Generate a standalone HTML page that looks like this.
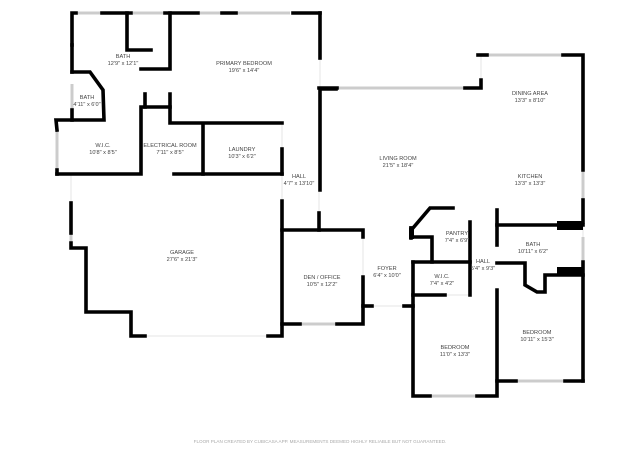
<!DOCTYPE html>
<html><head><meta charset="utf-8"><style>
body{margin:0;background:#fff;width:640px;height:457px;overflow:hidden}
svg{display:block}
text{font-family:"Liberation Sans",sans-serif;fill:#444;font-size:5.6px;text-anchor:middle}
.w{fill:none;stroke:#000;stroke-width:3.6;stroke-linecap:square;stroke-linejoin:miter}
.n{fill:none;stroke:#ccc;stroke-width:3}
.g{fill:none;stroke:#e4e4e4;stroke-width:1}
</style></head><body>
<svg width="640" height="457" viewBox="0 0 640 457">
<g class="g">
<line x1="71" y1="175" x2="71" y2="203"/><line x1="145" y1="336" x2="268" y2="336"/>
<line x1="282" y1="123" x2="282" y2="201"/><line x1="319" y1="190" x2="319" y2="213"/>
<line x1="363" y1="237" x2="363" y2="277"/><line x1="372" y1="306" x2="404" y2="306"/>
<line x1="481" y1="55" x2="481" y2="88"/><line x1="320" y1="58" x2="320" y2="88"/>
<line x1="583" y1="222" x2="583" y2="237"/><line x1="445" y1="295" x2="470" y2="295"/>
</g>
<g class="n">
<line x1="76" y1="13" x2="102" y2="13"/><line x1="133" y1="13" x2="164" y2="13"/><line x1="200" y1="13" x2="290" y2="13"/>
<line x1="72" y1="18" x2="72" y2="43"/><line x1="72" y1="84" x2="72" y2="110"/>
<line x1="57" y1="130" x2="57" y2="170"/><line x1="71" y1="233" x2="71" y2="243"/>
<line x1="337" y1="88" x2="465" y2="88"/><line x1="487" y1="55" x2="563" y2="55"/>
<line x1="583" y1="170" x2="583" y2="200"/><line x1="583" y1="237" x2="583" y2="262"/>
<line x1="300" y1="324" x2="337" y2="324"/><line x1="430" y1="396" x2="477" y2="396"/>
<line x1="516" y1="381" x2="565" y2="381"/>
</g>
<g class="w">
<polyline points="72,45 72,13 76,13"/><line x1="102" y1="13" x2="131" y2="13"/><line x1="165" y1="13" x2="198" y2="13"/>
<line x1="222" y1="13" x2="236" y2="13"/><line x1="293" y1="13" x2="320" y2="13"/>
<line x1="320" y1="13" x2="320" y2="58"/>
<polyline points="336,89 320,89 320,190"/>
<line x1="72" y1="45" x2="72" y2="72"/><line x1="72" y1="110" x2="72" y2="120"/>
<polyline points="127,13 127,50 151,50"/>
<polyline points="170,13 170,69 141,69"/>
<polyline points="72,72 90,72 103,90 104,120 56,120 57,130"/><line x1="57" y1="170" x2="57" y2="174"/>
<polyline points="57,174 141,174 141,107 170,107"/>
<line x1="145" y1="94" x2="145" y2="107"/>
<polyline points="170,94 170,123 282,123"/>
<line x1="203" y1="124" x2="203" y2="174"/>
<line x1="174" y1="174" x2="282" y2="174"/><line x1="282" y1="149" x2="282" y2="174"/>
<polyline points="71,203 71,233"/><polyline points="71,243 71,248 86,248 86,312 131,312 131,336 145,336"/>
<polyline points="268,336 282,336 282,201"/>
<polyline points="319,213 319,230"/>
<polyline points="282,230 363,230 363,237"/>
<polyline points="282,324 300,324"/><polyline points="337,324 363,324 363,277"/>
<line x1="363" y1="306" x2="372" y2="306"/>
<line x1="319" y1="88" x2="337" y2="88"/><polyline points="465,88 481,88 481,80"/>
<polyline points="478,55 487,55"/><polyline points="563,55 583,55 583,170"/><line x1="583" y1="200" x2="583" y2="222"/>
<polyline points="411,228 413,228 430,208 453,208"/>
<polyline points="411,237 432,237 432,262"/>
<line x1="411" y1="228" x2="411" y2="238"/>
<polyline points="413,262 470,262"/><line x1="470" y1="222" x2="470" y2="295"/>
<polyline points="413,262 413,396 430,396"/><polyline points="477,396 497,396 497,290"/>
<polyline points="413,295 445,295"/>
<line x1="404" y1="306" x2="413" y2="306"/>
<line x1="497" y1="210" x2="497" y2="245"/>
<line x1="497" y1="225" x2="583" y2="225"/>
<polyline points="497,263 525,263 525,285 537,292 545,292 545,275 583,275"/>
<line x1="583" y1="262" x2="583" y2="381"/>
<polyline points="497,381 516,381"/><polyline points="565,381 583,381"/>
</g>
<rect x="557" y="221" width="26" height="9" fill="#000"/>
<rect x="557" y="267" width="26" height="8" fill="#000"/>
<rect x="409" y="228" width="5" height="11" fill="#000"/>
<g>
<text x="123" y="58">BATH</text><text x="123" y="65">12'9" x 12'1"</text>
<text x="87" y="99">BATH</text><text x="87" y="106">4'11" x 6'0"</text>
<text x="244" y="65">PRIMARY BEDROOM</text><text x="244" y="72">19'6" x 14'4"</text>
<text x="103" y="147">W.I.C.</text><text x="103" y="154">10'8" x 8'5"</text>
<text x="170" y="147">ELECTRICAL ROOM</text><text x="170" y="154">7'11" x 8'5"</text>
<text x="242" y="151">LAUNDRY</text><text x="242" y="158">10'3" x 6'2"</text>
<text x="299" y="178">HALL</text><text x="299" y="185">4'7" x 13'10"</text>
<text x="398" y="160">LIVING ROOM</text><text x="398" y="167">21'5" x 18'4"</text>
<text x="530" y="95">DINING AREA</text><text x="530" y="102">13'3" x 8'10"</text>
<text x="530" y="178">KITCHEN</text><text x="530" y="185">13'3" x 13'3"</text>
<text x="182" y="254">GARAGE</text><text x="182" y="261">27'6" x 21'3"</text>
<text x="322" y="279">DEN / OFFICE</text><text x="322" y="286">10'5" x 12'2"</text>
<text x="387" y="270">FOYER</text><text x="387" y="277">6'4" x 10'0"</text>
<text x="457" y="235">PANTRY</text><text x="457" y="242">7'4" x 6'9"</text>
<text x="483" y="263">HALL</text><text x="483" y="270">5'4" x 9'3"</text>
<text x="442" y="278">W.I.C.</text><text x="442" y="285">7'4" x 4'2"</text>
<text x="533" y="246">BATH</text><text x="533" y="253">10'11" x 6'2"</text>
<text x="455" y="349">BEDROOM</text><text x="455" y="356">11'0" x 13'3"</text>
<text x="537" y="334">BEDROOM</text><text x="537" y="341">10'11" x 15'3"</text>
<text x="320" y="443" style="font-size:4.6px;fill:#aaa">FLOOR PLAN CREATED BY CUBICASA APP. MEASUREMENTS DEEMED HIGHLY RELIABLE BUT NOT GUARANTEED.</text>
</g>
</svg>
</body></html>
